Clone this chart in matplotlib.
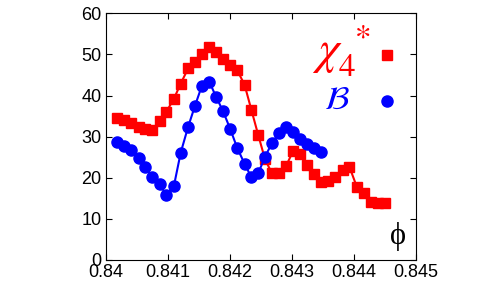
import matplotlib
matplotlib.use("Agg")
import matplotlib.pyplot as plt

plt.rcParams['font.family'] = ['Liberation Sans', 'DejaVu Sans']
plt.rcParams['mathtext.fontset'] = 'stix'

# chi_4* (red squares)
phi_chi = [0.84018, 0.84030, 0.84041, 0.84053, 0.84064, 0.84075, 0.84087, 0.84098,
           0.84110, 0.84121, 0.84133, 0.84144, 0.84155, 0.84167, 0.84178, 0.84190,
           0.84201, 0.84212, 0.84224, 0.84235, 0.84246, 0.84257, 0.84268, 0.84280,
           0.84291, 0.84302, 0.84313, 0.84325, 0.84336, 0.84347, 0.84359, 0.84370,
           0.84382, 0.84393, 0.84405, 0.84417, 0.84428, 0.84439, 0.84450]
chi4 = [34.6, 34.1, 33.2, 32.4, 31.9, 31.5, 33.9, 36.1,
        39.2, 42.9, 46.6, 48.1, 50.0, 51.9, 50.7, 48.8,
        47.4, 46.2, 42.6, 36.5, 30.4, 24.5, 21.1, 21.1,
        22.9, 26.4, 25.8, 23.1, 20.8, 19.0, 19.3, 20.1,
        21.9, 22.7, 17.8, 16.4, 14.2, 13.8, 13.8]

# B (blue circles)
phi_b = [0.84019, 0.84030, 0.84041, 0.84053, 0.84064, 0.84075, 0.84087, 0.84098,
         0.84110, 0.84121, 0.84133, 0.84144, 0.84155, 0.84167, 0.84178, 0.84189,
         0.84201, 0.84212, 0.84224, 0.84235, 0.84246, 0.84257, 0.84268, 0.84280,
         0.84291, 0.84302, 0.84313, 0.84325, 0.84336, 0.84347]
b_vals = [28.8, 27.7, 26.7, 24.9, 22.5, 20.3, 18.4, 15.8,
          18.0, 26.1, 32.4, 37.5, 42.3, 43.4, 39.7, 36.3,
          31.8, 27.3, 23.4, 20.1, 21.1, 25.1, 28.4, 31.0,
          32.4, 31.2, 29.4, 28.2, 27.3, 26.2]

fig = plt.figure(figsize=(5.04, 2.92), dpi=100)
ax = fig.add_axes([0.2097, 0.1096, 0.6151, 0.8449])

ax.plot(phi_chi, chi4, '-s', color='red', lw=1.5, ms=7)
ax.plot(phi_b, b_vals, '-o', color='blue', lw=1.5, ms=8)

ax.set_xlim(0.84, 0.845)
ax.set_ylim(0, 60)
ax.set_xticks([0.84, 0.841, 0.842, 0.843, 0.844, 0.845])
ax.set_xticklabels(['0.84', '0.841', '0.842', '0.843', '0.844', '0.845'])
ax.set_yticks([0, 10, 20, 30, 40, 50, 60])
ax.tick_params(direction='in', top=True, right=True, labelsize=13, length=4, pad=3)

# legend-like annotations
ax.text(0.855, 0.85, r'$\chi_4^{\ *}$', color='red', fontsize=34, ha='right', va='center',
        transform=ax.transAxes)
ax.plot([0.907], [0.831], 's', color='red', ms=7, transform=ax.transAxes, clip_on=False)
ax.text(0.746, 0.645, r'$\mathcal{B}$', color='blue', fontsize=24, ha='center', va='center',
        transform=ax.transAxes)
ax.plot([0.907], [0.645], 'o', color='blue', ms=8, transform=ax.transAxes, clip_on=False)
ax.text(0.944, 0.095, '\u03d5', color='black', fontsize=22, ha='center', va='center',
        family=['Liberation Serif', 'DejaVu Serif'], transform=ax.transAxes)

fig.savefig('out.png', dpi=100)
